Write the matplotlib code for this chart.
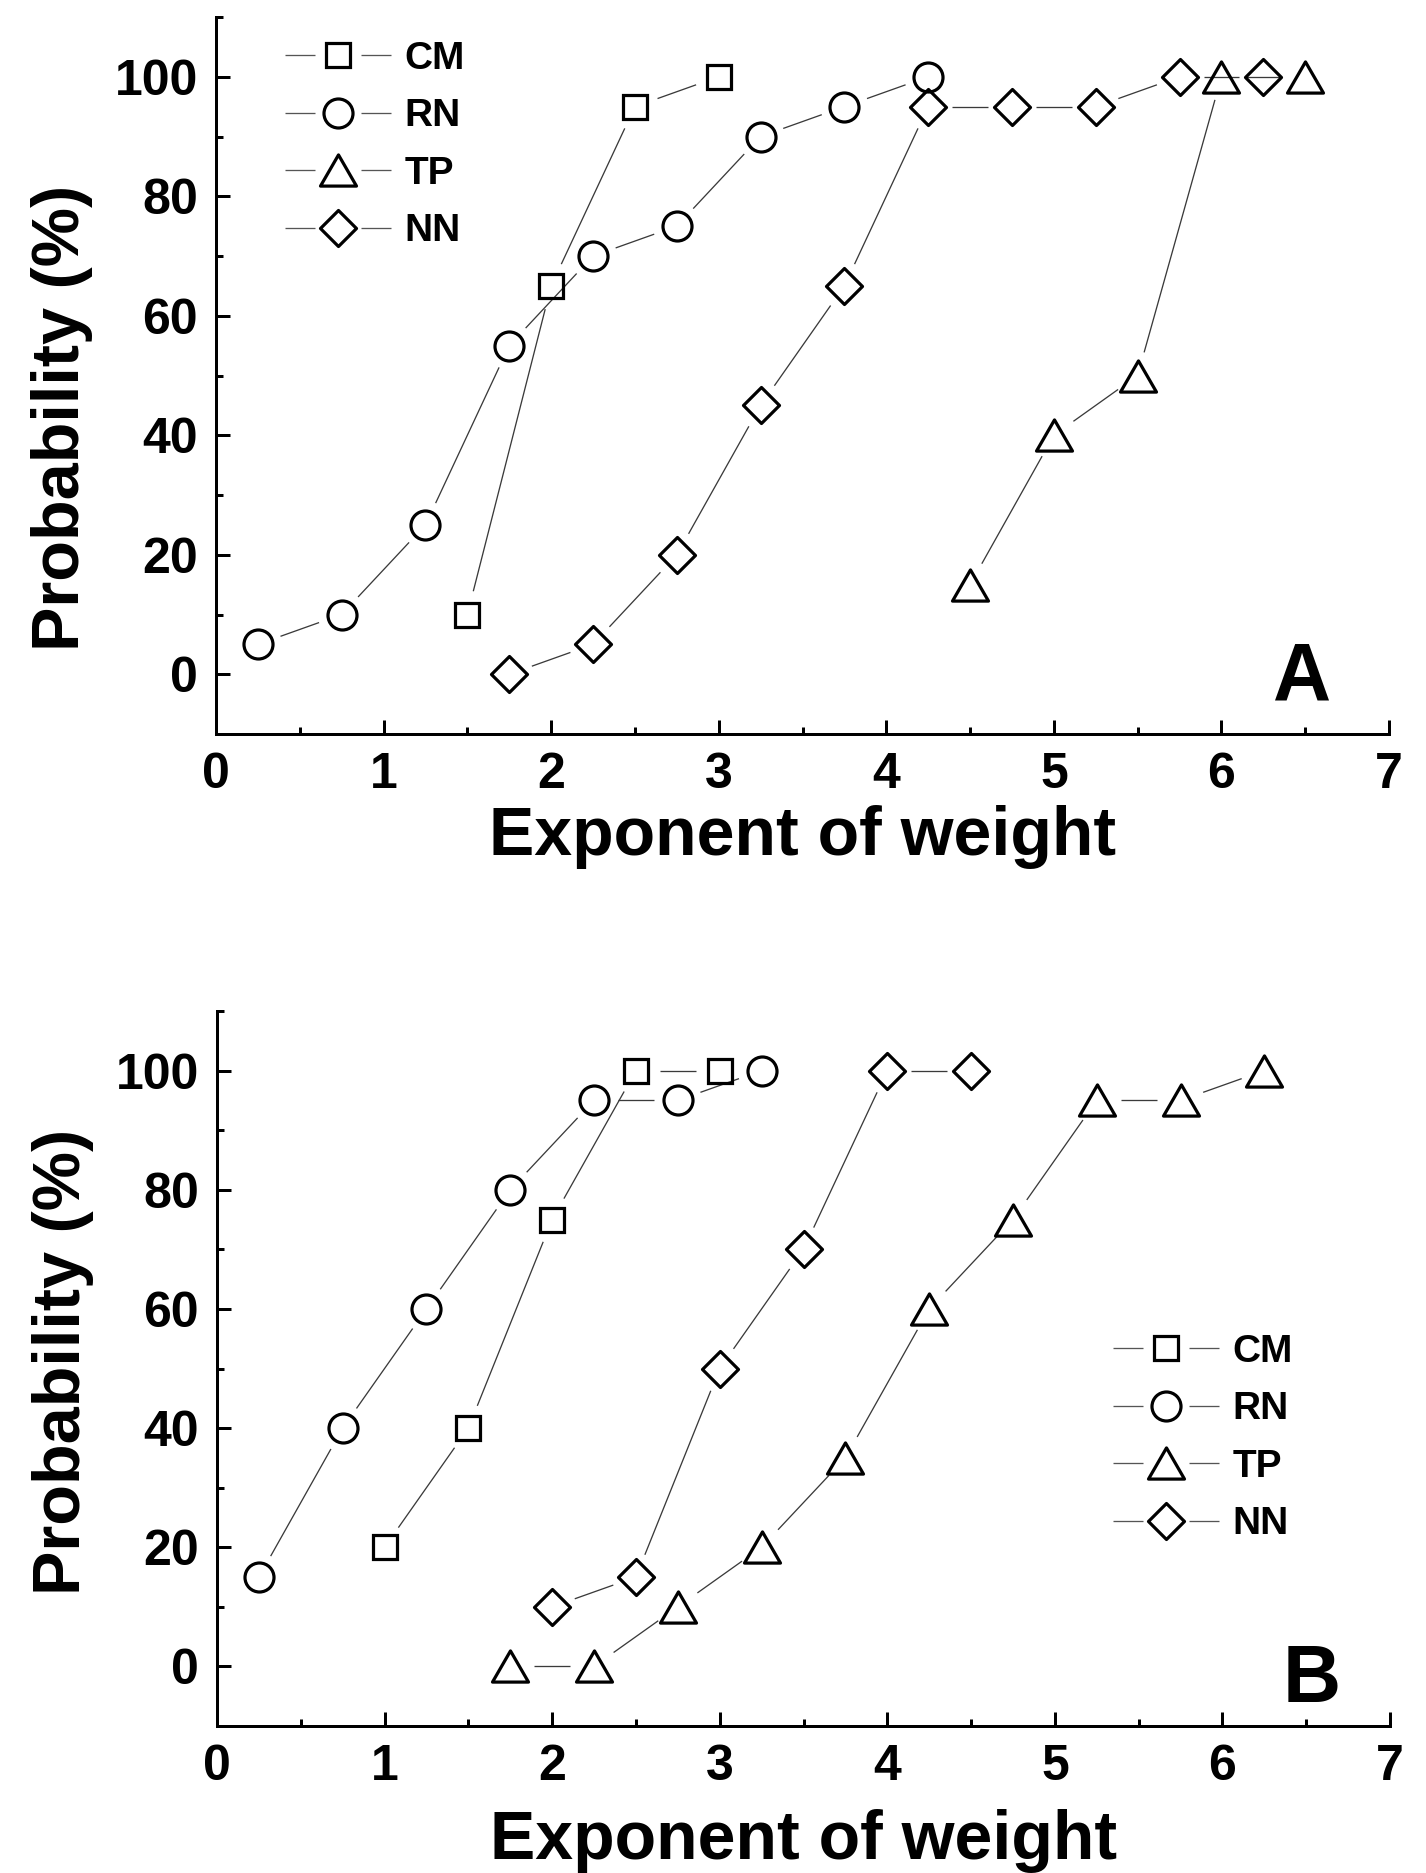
import numpy as np
import matplotlib
matplotlib.use("Agg")
import matplotlib.pyplot as plt
from matplotlib.markers import MarkerStyle
from matplotlib.lines import Line2D
from matplotlib.path import Path
from matplotlib.collections import LineCollection
from matplotlib.ticker import MultipleLocator

plt.rcParams['font.family'] = ['Liberation Sans', 'DejaVu Sans']
plt.rcParams['font.weight'] = 'bold'
plt.rcParams['lines.scale_dashes'] = False

# ---------------- data ----------------
series_names = ["CM", "RN", "TP", "NN"]

# Panel A
a_cm_x = [1.5, 2.0, 2.5, 3.0]
a_cm_y = [10, 65, 95, 100]
a_rn_x = [0.25, 0.75, 1.25, 1.75, 2.25, 2.75, 3.25, 3.75, 4.25]
a_rn_y = [5, 10, 25, 55, 70, 75, 90, 95, 100]
a_tp_x = [4.5, 5.0, 5.5, 6.0, 6.5]
a_tp_y = [15, 40, 50, 100, 100]
a_nn_x = [1.75, 2.25, 2.75, 3.25, 3.75, 4.25, 4.75, 5.25, 5.75, 6.25]
a_nn_y = [0, 5, 20, 45, 65, 95, 95, 95, 100, 100]

# Panel B
b_cm_x = [1.0, 1.5, 2.0, 2.5, 3.0]
b_cm_y = [20, 40, 75, 100, 100]
b_rn_x = [0.25, 0.75, 1.25, 1.75, 2.25, 2.75, 3.25]
b_rn_y = [15, 40, 60, 80, 95, 95, 100]
b_tp_x = [1.75, 2.25, 2.75, 3.25, 3.75, 4.25, 4.75, 5.25, 5.75, 6.25]
b_tp_y = [0, 0, 10, 20, 35, 60, 75, 95, 95, 100]
b_nn_x = [2.0, 2.5, 3.0, 3.5, 4.0, 4.5]
b_nn_y = [10, 15, 50, 70, 100, 100]

x_ticks = [0, 1, 2, 3, 4, 5, 6, 7]
y_ticks = [0, 20, 40, 60, 80, 100]
x_label = "Exponent of weight"
y_label = "Probability (%)"
panel_labels = ["A", "B"]

# ---------------- style ----------------
W, H = 1426, 1873
DPI = 100
fig = plt.figure(figsize=(W / DPI, H / DPI), dpi=DPI)

PT = 72.0 / DPI  # points per pixel

def closed_marker(verts):
    v = list(verts) + [verts[0]]
    return MarkerStyle(Path(v, closed=True), joinstyle='miter')

tri = closed_marker([(-0.5, -0.433), (0.5, -0.433), (0.0, 0.433)])
dia = closed_marker([(0, 0.5), (0.5, 0), (0, -0.5), (-0.5, 0)])
sq = MarkerStyle('s', joinstyle='miter')
markers = {"CM": (sq, 24 * PT), "RN": ('o', 29 * PT), "TP": (tri, 36 * PT), "NN": (dia, 36 * PT)}
MEW = 3.2 * PT
LINE_C = '#3a3a3a'
LINE_W = 1.3 * PT
GAP = 24  # px from marker centre

def axes_rect(left, top, right, bottom):
    return [left / W, 1 - bottom / H, (right - left) / W, (bottom - top) / H]

def style_axes(ax):
    ax.set_xlim(0, 7)
    ax.set_ylim(-10, 110)
    for s in ('top', 'right'):
        ax.spines[s].set_visible(False)
    for s in ('left', 'bottom'):
        ax.spines[s].set_linewidth(3.0 * PT)
    ax.xaxis.set_minor_locator(MultipleLocator(0.5))
    ax.yaxis.set_minor_locator(MultipleLocator(10))
    ax.set_xticks(x_ticks)
    ax.set_yticks(y_ticks)
    ax.tick_params(which='major', direction='in', length=14 * PT, width=3 * PT,
                   labelsize=36, pad=13)
    ax.tick_params(which='minor', direction='in', length=7 * PT, width=3 * PT)
    for lab in ax.get_xticklabels() + ax.get_yticklabels():
        lab.set_fontweight('bold')

def gapped_line(ax, x, y):
    pts = ax.transData.transform(np.column_stack([x, y]))
    inv = ax.transData.inverted()
    segs = []
    for p, q in zip(pts[:-1], pts[1:]):
        d = q - p
        L = np.hypot(*d)
        if L <= 2 * GAP:
            continue
        u = d / L
        segs.append(inv.transform(np.array([p + u * GAP, q - u * GAP])))
    ax.add_collection(LineCollection(segs, colors=LINE_C, linewidths=LINE_W, zorder=2))

def plot_panel(ax, data, legend_anchor, label_pos, ylab_y, xlab_y):
    style_axes(ax)
    for name, (x, y) in zip(series_names, data):
        gapped_line(ax, x, y)
        m, ms = markers[name]
        ax.plot(x, y, linestyle='none', marker=m, markersize=ms, markerfacecolor='none',
                markeredgecolor='black', markeredgewidth=MEW, zorder=3)
    handles = []
    for name in series_names:
        m, ms = markers[name]
        ln = Line2D([], [], color='#555555', linewidth=LINE_W,
                    dashes=(30 * PT, 46 * PT, 30 * PT, 200 * PT))
        mk = Line2D([], [], linestyle='none', marker=m, markersize=ms, markerfacecolor='none',
                    markeredgecolor='black', markeredgewidth=MEW)
        handles.append((ln, mk))
    ax.legend(handles, series_names, loc='upper left',
              bbox_to_anchor=(legend_anchor[0] / W, 1 - legend_anchor[1] / H),
              bbox_transform=fig.transFigure, frameon=False, borderpad=0, borderaxespad=0,
              handlelength=106 * PT / 28, handletextpad=0.35, labelspacing=0.55,
              prop={'weight': 'bold', 'size': 28})
    ax.set_xlabel(x_label, fontsize=49, fontweight='bold')
    ax.set_ylabel(y_label, fontsize=48, fontweight='bold')
    ax.xaxis.set_label_coords(0.5, xlab_y)
    ax.yaxis.set_label_coords(-0.105, ylab_y)
    fig.text(label_pos[0][0] / W, 1 - label_pos[0][1] / H, label_pos[1],
             fontsize=58, fontweight='bold', ha='center', va='baseline')

axA = fig.add_axes(axes_rect(216, 17, 1389, 734))
axB = fig.add_axes(axes_rect(217, 1011, 1390, 1726))

plot_panel(axA, [(a_cm_x, a_cm_y), (a_rn_x, a_rn_y), (a_tp_x, a_tp_y), (a_nn_x, a_nn_y)],
           (285, 41), ((1302, 699), panel_labels[0]), 0.441, -0.099)
plot_panel(axB, [(b_cm_x, b_cm_y), (b_rn_x, b_rn_y), (b_tp_x, b_tp_y), (b_nn_x, b_nn_y)],
           (1113, 1334), ((1312, 1702), panel_labels[1]), 0.509, -0.116)

fig.savefig("out.png", dpi=DPI)
